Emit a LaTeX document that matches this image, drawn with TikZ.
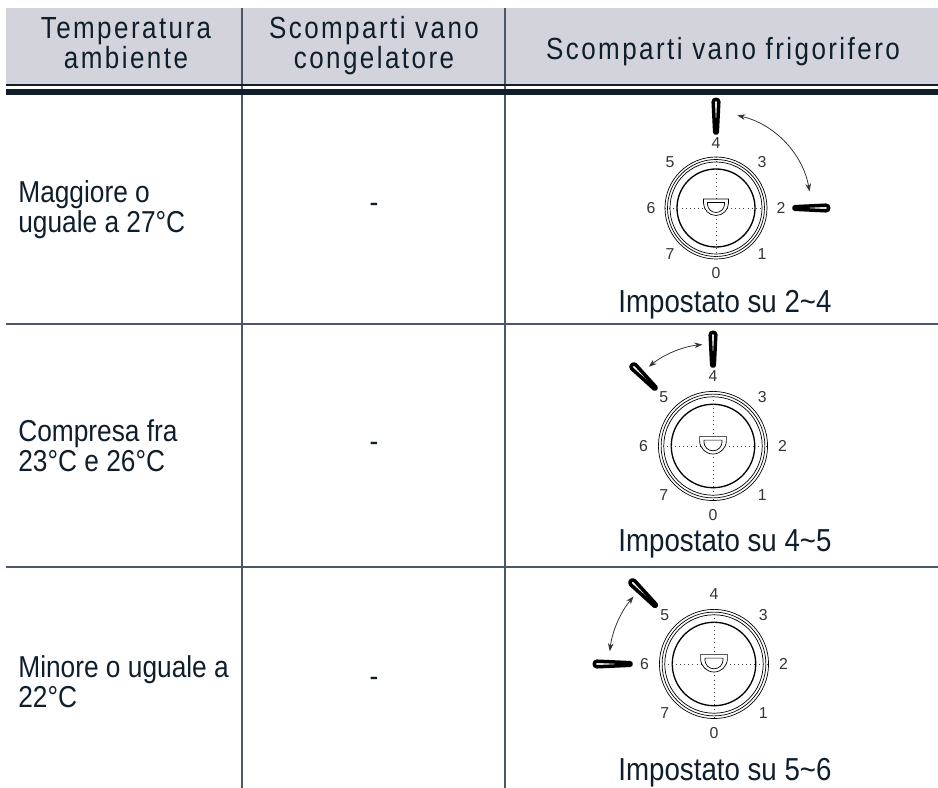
\documentclass[tikz,border=0pt]{standalone}
\usepackage{fontspec}
\setmainfont{Liberation Sans}[FakeStretch=0.87]
\newfontfamily\headfont{Liberation Sans}[FakeStretch=0.85,LetterSpace=8]
\newfontfamily\digitfont{Liberation Sans}
\usepackage{tikz}
\usetikzlibrary{arrows.meta}
\definecolor{ink}{HTML}{0F1E2C}
\definecolor{gridline}{HTML}{4D5666}
\definecolor{headfill}{HTML}{D3D4DB}
\definecolor{rule}{HTML}{101D2B}

\begin{document}
\begin{tikzpicture}[x=0.02cm,y=0.02cm,
  grid/.style={draw=gridline, line width=0.85pt},
  head/.style={font=\headfont\fontsize{17.4}{15.3}\selectfont, text=ink, align=center, inner sep=0pt},
  body/.style={font=\fontsize{17.2}{17.6}\selectfont, text=ink, align=left, inner sep=0pt},
  caption/.style={font=\fontsize{18.1}{20}\selectfont, text=ink, inner sep=0pt},
  digit/.style={font=\digitfont\fontsize{9}{10}\selectfont, text=black!80, inner sep=0pt},
  ring/.style={draw=black, line width=0.4pt},
  rim/.style={draw=black, line width=0.75pt},
  cross/.style={draw=black!75, line width=0.35pt, dotted},
  pointer/.style={draw=black, line width=2pt, fill=white, line join=round},
  swing/.style={draw=black!80, line width=0.45pt,
    {Stealth[length=4.5pt,width=3.2pt]}-{Stealth[length=4.5pt,width=3.2pt]}},
  pics/dial/.style={code={
    \draw[ring] (0,0) circle (51);
    \draw[ring] (0,0) circle (48.5);
    \draw[ring] (0,0) circle (46);
    \draw[rim] (0,0) circle (39);
    \draw[cross] (-51,0) -- (51,0);
    \draw[cross] (0,51) -- (0,-51);
    \draw[ring, fill=white] (-12.5,9) -- (12.5,9) -- (12.5,5) arc (0:-180:12.5) -- cycle;
    \draw[ring] (-8.5,5.5) -- (8.5,5.5) -- (8.5,4) arc (0:-180:8.5) -- cycle;
    \foreach \n in {0,...,7}
      \node[digit] at ({45*\n-90}:65) {\n};
  }}
]
  \useasboundingbox (0,0) rectangle (938,788);

  % header band and rules
  \fill[headfill] (6,704) rectangle (938,780);
  \draw[grid] (242,780) -- (242,0);
  \draw[grid] (505,780) -- (505,0);
  \draw[rule, line width=1.1pt] (6,703) -- (938,703);
  \fill[rule] (6,693) rectangle (938,699.3);
  \draw[grid] (6,464) -- (938,464);
  \draw[grid] (6,221) -- (938,221);

  % header
  \node[head, anchor=base] (hTemp) at (126,719) {Temperatura\\ambiente};
  \node[head, anchor=base] (hFreezer) at (374,719) {Scomparti vano\\congelatore};
  \node[head, anchor=base] (hFridge) at (723,728) {Scomparti vano frigorifero};

  % ambient temperature
  \node[body, anchor=base west] (tHot) at (18,555) {Maggiore o\\uguale a 27°C};
  \node[body, anchor=base west] (tMid) at (18,316) {Compresa fra\\23°C e 26°C};
  \node[body, anchor=base west] (tCold) at (18,80) {Minore o uguale a\\22°C};

  % freezer
  \node[body] (fHot) at (374,580) {-};
  \node[body] (fMid) at (374,341) {-};
  \node[body] (fCold) at (374,106) {-};

  % fridge dials
  \coordinate (dHot) at (716,580);
  \coordinate (dMid) at (713,342);
  \coordinate (dCold) at (714,124);
  \pic at (dHot) {dial};
  \pic[scale=1.07] at (dMid) {dial};
  \pic[scale=1.07] at (dCold) {dial};

  \draw[pointer, shift={(dHot)}, rotate=90] (76,-1.3) -- (106,-2.8) arc (-90:90:2.8) -- (76,1.3) arc (90:270:1.3) -- cycle;
  \draw[pointer, shift={(dHot)}, rotate=0] (79,-1.3) -- (110,-2.8) arc (-90:90:2.8) -- (79,1.3) arc (90:270:1.3) -- cycle;
  \draw[swing] ([shift={(77:95)}]dHot) arc[start angle=77, end angle=10, radius=95];

  \draw[pointer, shift={(dMid)}, rotate=90] (81,-1.3) -- (111,-2.8) arc (-90:90:2.8) -- (81,1.3) arc (90:270:1.3) -- cycle;
  \draw[pointer, shift={(dMid)}, rotate=135] (82,-1.3) -- (112,-2.8) arc (-90:90:2.8) -- (82,1.3) arc (90:270:1.3) -- cycle;
  \draw[swing] ([shift={(96:102)}]dMid) arc[start angle=96, end angle=129, radius=102];

  \draw[pointer, shift={(dCold)}, rotate=135] (83,-1.3) -- (115,-2.8) arc (-90:90:2.8) -- (83,1.3) arc (90:270:1.3) -- cycle;
  \draw[pointer, shift={(dCold)}, rotate=180] (84,-1.3) -- (117,-2.8) arc (-90:90:2.8) -- (84,1.3) arc (90:270:1.3) -- cycle;
  \draw[swing] ([shift={(140:105)}]dCold) arc[start angle=140, end angle=173, radius=105];

  \node[caption, anchor=base] (cHot) at (725,475) {Impostato su 2\textasciitilde 4};
  \node[caption, anchor=base] (cMid) at (725,236) {Impostato su 4\textasciitilde 5};
  \node[caption, anchor=base] (cCold) at (725,7) {Impostato su 5\textasciitilde 6};
\end{tikzpicture}
\end{document}
